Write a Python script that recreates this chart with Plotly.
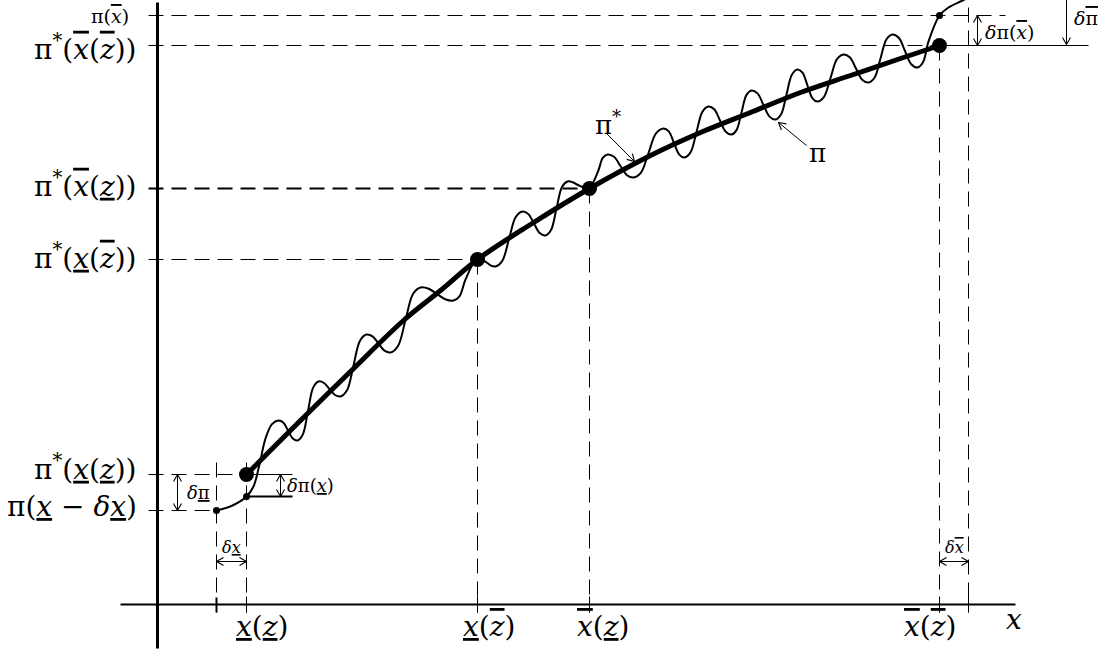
import math
import plotly.graph_objects as go

# ---------------- data (diagram units, origin at the axes crossing) ----------------
# positions on the x axis
x_ticks = [59, 89, 320, 432, 782, 811]          # x-dx, x(z), x(zbar), xbar(z), xbar(zbar), xbar+dxbar
# levels on the vertical axis
levels = [589, 559, 416, 345, 130, 94]          # pi(xbar), pi*(xbar(zbar)), pi*(xbar(z)), pi*(x(zbar)), pi*(x(z)), pi(x-dx)

# pi* : the smooth (thick) curve
pi_star_x = [89, 143, 193, 246, 283, 320, 373, 432, 493, 543, 593, 643, 693, 743, 782]
pi_star_y = [130, 184, 233, 284, 314, 345, 380, 416, 449, 472, 492, 512, 529, 546, 559]

# pi : the wiggly (thin) curve, read as crossings, shoulders, peaks and troughs
pi_x = [59, 75, 89, 96, 102, 108, 114.5, 121, 125.75,
        130.5, 135.25, 140, 145.25,
        150.5, 155.75, 161, 166.5,
        172, 177.5, 183, 189.5,
        196, 202.5, 209, 215,
        221, 227, 233, 240.5,
        248, 255.5, 263, 271.25,
        279.5, 287.75, 296, 302,
        308, 320,
        329, 333.5, 338, 344.75,
        351.5, 358.25, 365, 370.75,
        376.5, 382.25, 388, 393.5,
        399, 404.5, 410, 415.25,
        420.5, 431,
        440.5, 445.25, 450, 456.5,
        463, 469.5, 476, 483.5,
        491, 498.5, 506, 511.25,
        516.5, 521.75, 527, 533,
        539, 545, 551, 556.75,
        562.5, 568.25, 574, 579,
        584, 589, 594, 600,
        606, 612, 618, 623.5,
        629, 634.5, 640, 645,
        650, 655, 660, 666.5,
        673, 679.5, 686, 692.25,
        698.5, 704.75, 711, 717,
        723, 729, 735, 741.25,
        747.5, 753.75, 760, 765.5,
        771, 782, 791, 805, 821]
pi_y = [94, 99, 108, 118, 140, 166, 180.4, 184, 182,
        174, 166, 164, 169.9,
        193.5, 217.1, 223, 221.5,
        215.5, 209.5, 208, 214.2,
        239, 263.8, 270, 268.2,
        261, 253.8, 252, 258.5,
        284.5, 310.5, 317, 315.7,
        310.5, 305.3, 304, 308.2,
        325, 346,
        342, 338.8, 338, 343.5,
        365.5, 387.5, 393, 390.6,
        381, 371.4, 369, 374.4,
        396, 417.6, 423, 422.3,
        419.5, 416,
        433, 446.6, 450, 447.7,
        438.5, 429.3, 427, 431.9,
        451.5, 471.1, 476, 473.1,
        461.5, 449.9, 447, 452.1,
        472.5, 492.9, 498, 495.2,
        484, 472.8, 470, 474.4,
        492, 509.6, 514, 511.1,
        499.5, 487.9, 485, 490,
        510, 530, 535, 531.8,
        519, 506.2, 503, 507.7,
        526.5, 545.3, 550, 547.2,
        536, 524.8, 522, 526.8,
        546, 565.2, 570, 566.7,
        553.5, 540.3, 537, 542.2,
        563, 589, 597, 604, 612]

big_dot_x = [89, 320, 432, 782]
big_dot_y = [130, 345, 416, 559]
small_dot_x = [59, 89, 782]
small_dot_y = [94, 108, 589]

# ---------------- helpers ----------------
FONT = "DejaVu Serif"
fig = go.Figure()


def line(xs, ys, width=1.0, dash=None, shape="linear", smoothing=1.0):
    fig.add_trace(go.Scatter(
        x=xs, y=ys, mode="lines", hoverinfo="skip", showlegend=False,
        line=dict(color="black", width=width, dash=dash, shape=shape,
                  smoothing=smoothing if shape == "spline" else None)))


def head(tx, ty, fx, fy, L=7.0, W=4.0):
    dx, dy = tx - fx, ty - fy
    n = math.hypot(dx, dy)
    ux, uy = dx / n, dy / n
    px, py = -uy, ux
    bx, by = tx - L * ux, ty - L * uy
    line([bx + W * px, tx, bx - W * px], [by + W * py, ty, by - W * py], width=1.1)


def arrow(x0, y0, x1, y1, both=False):
    line([x0, x1], [y0, y1], width=1.0)
    head(x1, y1, x0, y0)
    if both:
        head(x0, y0, x1, y1)


def ov(s):
    return f'<span style="font-style:italic;text-decoration:overline">{s}</span>'


def un(s):
    return f'<span style="font-style:italic;text-decoration:underline">{s}</span>'


def it(s):
    return f'<i>{s}</i>'


def label(x, y, text, size=26, xanchor="center"):
    fig.add_annotation(x=x, y=y, text=text, showarrow=False, xanchor=xanchor, yanchor="middle",
                       font=dict(family=FONT, size=size, color="black"))


DASH = "15px,8px"
LEFT = -9
BOTTOM = -8
DW = 1.0

# ---------------- reference lines ----------------
x_mxd, x_lz, x_lzb, x_hz, x_hzb, x_hpd = x_ticks
l_pib, l_hzb, l_hz, l_lzb, l_lz, l_pim = levels

# horizontal dashed lines
line([LEFT, 848], [l_pib, l_pib], DW, DASH)
line([LEFT, x_hzb], [l_hzb, l_hzb], DW, DASH)
line([x_hzb, 931], [l_hzb, l_hzb], 1.0)
line([LEFT, x_hz], [l_hz, l_hz], 2.2, DASH)
line([LEFT, x_lzb], [l_lzb, l_lzb], DW, DASH)
line([LEFT, x_lz], [l_lz, l_lz], DW, DASH)
line([x_lz, 135], [l_lz, l_lz], 1.0)
line([x_lz, 135], [small_dot_y[1], small_dot_y[1]], 2)
line([LEFT, x_mxd], [l_pim, l_pim], DW, DASH)

# vertical dashed lines
line([x_mxd, x_mxd], [142, BOTTOM], DW, DASH)
line([x_lz, x_lz], [142, BOTTOM], DW, DASH)
line([x_lzb, x_lzb], [l_lzb, BOTTOM], DW, DASH)
line([x_hz, x_hz], [l_hz, BOTTOM], DW, DASH)
line([x_hzb, x_hzb], [l_hzb, BOTTOM], DW, DASH)
line([x_hpd, x_hpd], [597, BOTTOM], DW, DASH)

# axis ticks
for i, xt in enumerate(x_ticks):
    line([xt, xt], [8 if i else 7, BOTTOM], 2 if i == 0 else 1.0)

# axes
line([0, 0], [-44, 602], 3.0)
line([-37, 858], [0, 0], 2.2)

# ---------------- curves ----------------
line(pi_x, pi_y, 2.0, shape="spline", smoothing=1.0)
line(pi_star_x, pi_star_y, 5, shape="spline", smoothing=1.0)

fig.add_trace(go.Scatter(x=big_dot_x, y=big_dot_y, mode="markers", hoverinfo="skip", showlegend=False,
                         marker=dict(color="black", size=15, line=dict(width=0))))
fig.add_trace(go.Scatter(x=small_dot_x, y=small_dot_y, mode="markers", hoverinfo="skip", showlegend=False,
                         marker=dict(color="black", size=7, line=dict(width=0))))

# ---------------- delta arrows ----------------
arrow(20, l_pim, 20, l_lz, both=True)
arrow(123, small_dot_y[1], 123, l_lz, both=True)
arrow(x_mxd, 43, x_lz, 43, both=True)
arrow(x_hzb, 43, x_hpd, 43, both=True)
arrow(820, l_hzb, 820, l_pib, both=True)
arrow(909, 610, 909, 560)
arrow(449, 471, 477, 443)
arrow(649, 459, 621, 482)

# ---------------- labels ----------------
pi = "π"
d = it("δ")
star = "<sup>*</sup>"
BIG = 28
label(-27, 589, f"{pi}({ov('x')})", 19, "right")
label(-19, 557, f"{pi}{star}({ov('x')}({ov('z')}))", BIG, "right")
label(-19, 420, f"{pi}{star}({ov('x')}({un('z')}))", BIG, "right")
label(-19, 348, f"{pi}{star}({un('x')}({ov('z')}))", BIG, "right")
label(-19, 137, f"{pi}{star}({un('x')}({un('z')}))", BIG, "right")
label(-19, 98, f"{pi}({un('x')} − {d}{un('x')})", BIG, "right")

label(104, -22, f"{un('x')}({un('z')})", BIG)
label(331, -22, f"{un('x')}({ov('z')})", BIG)
label(445, -22, f"{ov('x')}({un('z')})", BIG)
label(772, -22, f"{ov('x')}({ov('z')})", BIG)
label(856, -15, it("x"), BIG)

label(27, 112, f'{d}<span style="text-decoration:underline">π</span>', 18, "left")
label(127, 119, f"{d}{pi}({un('x')})", 18, "left")
label(74, 57, f"{d}{un('x')}", 16)
label(796.5, 57, f"{d}{ov('x')}", 16)
label(825, 573, f"{d}{pi}({ov('x')})", 19, "left")
label(914, 587, f'{d}<span style="text-decoration:overline">π</span>', 19, "left")
label(450, 482, f"{pi}{star}", 26)
label(660, 452, pi, 26)

fig.update_layout(
    width=1104, height=649,
    margin=dict(l=0, r=0, t=0, b=0),
    plot_bgcolor="white", paper_bgcolor="white",
    xaxis=dict(range=[-157.5, 946.5], visible=False, fixedrange=True),
    yaxis=dict(range=[-44.5, 604.5], visible=False, fixedrange=True),
    showlegend=False,
)

fig.write_html("out.html", config={"displayModeBar": False},
               post_script="document.body.style.margin='0';")
